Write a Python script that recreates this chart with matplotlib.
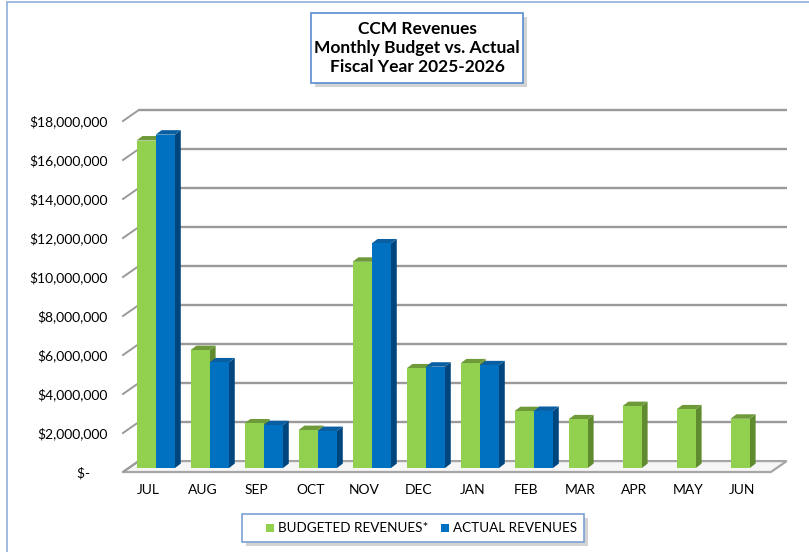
import matplotlib
matplotlib.use("Agg")
import matplotlib.pyplot as plt
from matplotlib.patches import Polygon, Rectangle
import numpy as np

months = ["JUL", "AUG", "SEP", "OCT", "NOV", "DEC", "JAN", "FEB", "MAR", "APR", "MAY", "JUN"]
budgeted = [16.8e6, 6.05e6, 2.29e6, 1.95e6, 10.58e6, 5.11e6, 5.37e6, 2.92e6, 2.50e6, 3.18e6, 3.01e6, 2.53e6]
actual = [17.1e6, 5.42e6, 2.20e6, 1.90e6, 11.52e6, 5.20e6, 5.27e6, 2.93e6, None, None, None, None]
yticks = [0, 2e6, 4e6, 6e6, 8e6, 10e6, 12e6, 14e6, 16e6, 18e6]
ytick_labels = ["$-     ", "$2,000,000", "$4,000,000", "$6,000,000", "$8,000,000", "$10,000,000",
                "$12,000,000", "$14,000,000", "$16,000,000", "$18,000,000"]
title_lines = "CCM Revenues\nMonthly Budget vs. Actual\nFiscal Year 2025-2026"
legend_labels = ["BUDGETED REVENUES*", "ACTUAL REVENUES"]

plt.rcParams['font.family'] = ['Lato', 'DejaVu Sans']

W, H = 809, 552
fig = plt.figure(figsize=(W / 100, H / 100), dpi=100)
fig.patch.set_facecolor("white")

# axes placement (pixels)
px_per_M = 19.5
x_left, x_right, y_base = 123, 771, 472
ymax = 19.0e6
ax_h = ymax / 1e6 * px_per_M
ax = fig.add_axes([x_left / W, 1 - y_base / H, (x_right - x_left) / W, ax_h / H])
ax.set_xlim(0, 12)
ax.set_ylim(0, ymax)
for s in ax.spines.values():
    s.set_visible(False)
ax.patch.set_alpha(0)

# depth offsets (floor / wall)
DX, DY = 0.29, 0.56e6
grid_col = "#9a9a9a"

# floor
floor = Polygon([(0, 0), (12, 0), (12 + DX, DY), (DX, DY)], closed=True,
                facecolor="#f6f6f6", edgecolor="#a6a6a6", lw=1.6, zorder=1, clip_on=False)
ax.add_patch(floor)

# back wall gridlines and left diagonals
for v in yticks:
    if v > 0:
        ax.plot([DX, 12 + DX], [v + DY, v + DY], color=grid_col, lw=1.7, zorder=1,
                solid_capstyle="butt", clip_on=False)
    ax.plot([0, DX], [v, v + DY], color=grid_col, lw=1.4, zorder=1, clip_on=False)

# bars
bw = 0.355
ox, oy = 0.25, 0.20e6
bdx, bdy = 0.11, 0.23e6
green = ("#92D050", "#6f9a3a", "#5f8a2e")
blue = ("#0070C0", "#0a5fa3", "#00467e")


def bar3d(x0, v, cols):
    front, top, side = cols
    b = oy
    ax.add_patch(Polygon([(x0 + bw, b), (x0 + bw, b + v), (x0 + bw + bdx, b + v + bdy), (x0 + bw + bdx, b + bdy)],
                         closed=True, facecolor=side, edgecolor="none", zorder=3, clip_on=False))
    ax.add_patch(Polygon([(x0, b + v), (x0 + bw, b + v), (x0 + bw + bdx, b + v + bdy), (x0 + bdx, b + v + bdy)],
                         closed=True, facecolor=top, edgecolor="none", zorder=3, clip_on=False))
    ax.add_patch(Rectangle((x0, b), bw, v, facecolor=front, edgecolor="none", zorder=3, clip_on=False))


for i in range(12):
    bar3d(i + ox, budgeted[i], green)
    if actual[i] is not None:
        bar3d(i + ox + bw, actual[i], blue)

# ticks
ax.set_yticks(yticks)
ax.set_yticklabels(ytick_labels)
ax.tick_params(axis="y", length=0, pad=11, labelsize=10, labelcolor="#000000")
ax.set_xticks(np.arange(12) + 0.47)
ax.set_xticklabels(months)
ax.tick_params(axis="x", length=0, pad=9, labelsize=10, labelcolor="#000000")

# outer chart border
fig.add_artist(Rectangle((7 / W, -0.1), 1.2, 1 - 2 / H + 0.1, transform=fig.transFigure,
                         facecolor="none", edgecolor="#8eb0dc", lw=1.2))

# title box
tx0, ty0, tx1, ty1 = 311, 13, 523, 83
fig.add_artist(Rectangle(((tx0 + 4) / W, 1 - (ty1 + 4) / H), (tx1 - tx0) / W, (ty1 - ty0) / H,
                         transform=fig.transFigure, facecolor="#c8c8c8", edgecolor="none", alpha=0.8))
fig.add_artist(Rectangle((tx0 / W, 1 - ty1 / H), (tx1 - tx0) / W, (ty1 - ty0) / H,
                         transform=fig.transFigure, facecolor="white", edgecolor="#5b8bd0", lw=1.2))
fig.text((tx0 + tx1) / 2 / W, 1 - (ty0 + ty1) / 2 / H, title_lines, ha="center", va="center",
         fontsize=12.5, fontweight="bold", linespacing=1.25)

# legend box
lx0, ly0, lx1, ly1 = 242, 514, 584, 542
fig.add_artist(Rectangle(((lx0 + 4) / W, 1 - (ly1 + 4) / H), (lx1 - lx0) / W, (ly1 - ly0) / H,
                         transform=fig.transFigure, facecolor="#c8c8c8", edgecolor="none", alpha=0.8))
fig.add_artist(Rectangle((lx0 / W, 1 - ly1 / H), (lx1 - lx0) / W, (ly1 - ly0) / H,
                         transform=fig.transFigure, facecolor="white", edgecolor="#7ea0d6", lw=1.2))
ly = 1 - (ly0 + ly1) / 2 / H
for (sx, tx_, lab, col) in [(266, 278, legend_labels[0], green[0]), (441, 453, legend_labels[1], blue[0])]:
    fig.add_artist(Rectangle((sx / W, ly - 4 / H), 8 / W, 8 / H, transform=fig.transFigure,
                             facecolor=col, edgecolor="none"))
    fig.text(tx_ / W, ly, lab, ha="left", va="center", fontsize=9.7)

fig.savefig("out.png", dpi=100, facecolor="white")
